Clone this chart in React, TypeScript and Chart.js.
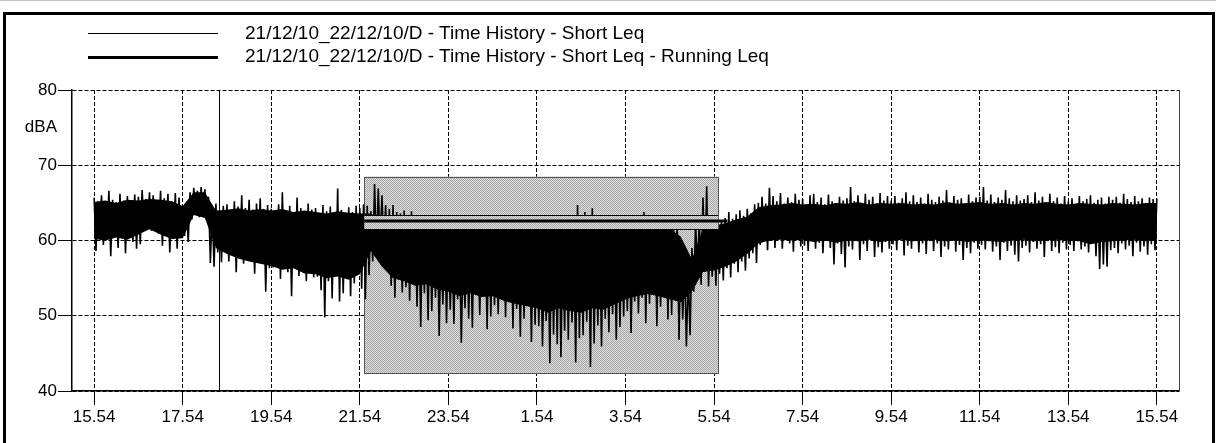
import React, { useEffect, useRef } from 'react';
import { Chart, registerables } from 'chart.js';

Chart.register(...registerables);

const FONT = "'Liberation Sans', Arial, Helvetica, sans-serif";

// ---- legend ----
const legendLabels = [
  '21/12/10_22/12/10/D - Time History - Short Leq',
  '21/12/10_22/12/10/D - Time History - Short Leq - Running Leq',
];

// ---- axes ----
// x values are hours after 15:54 on the first day
const xTickHours = [0, 2, 4, 6, 8, 10, 12, 14, 16, 18, 20, 22, 24];
const xTickLabels = ['15.54', '17.54', '19.54', '21.54', '23.54', '1.54', '3.54', '5.54', '7.54', '9.54', '11.54', '13.54', '15.54'];
const xRange = [-0.5, 24.5];
const yTickValues = [40, 50, 60, 70, 75, 80];
const yUnitValue = 75;
const yUnitLabel = 'dBA';
const yRange = [40, 80];

// ---- Short Leq: per 5-minute bin, the highest and lowest level (dBA) ----
const binsPerHour = 12;
const shortLeqHigh = [
  65.7, 65.2, 66.0, 65.0, 66.6, 65.4, 65.1, 66.2, 65.3, 65.9, 65.0, 66.1, // 15:54
  65.8, 66.7, 65.5, 66.4, 66.0, 65.3, 66.6, 65.6, 66.2, 65.2, 66.3, 65.7, // 16:54
  64.5, 65.0, 66.4, 67.0, 66.6, 67.1, 66.8, 65.8, 64.3, 64.9, 63.9, 64.6, // 17:54
  64.8, 64.0, 65.2, 64.5, 66.0, 64.3, 65.4, 64.1, 64.9, 65.6, 64.2, 64.7, // 18:54
  64.2, 63.7, 64.8, 66.4, 64.0, 64.6, 63.8, 65.7, 64.3, 63.9, 64.9, 64.1, // 19:54
  64.3, 63.6, 64.7, 63.9, 64.5, 63.7, 66.9, 64.1, 63.5, 64.4, 63.8, 64.6, // 20:54
  64.3, 64.8, 64.6, 63.9, 67.5, 66.9, 66.0, 64.7, 64.2, 64.7, 63.8, 63.6, // 21:54
  64.0, 62.6, 63.9, 62.3, 62.8, 61.9, 62.5, 62.9, 61.6, 62.4, 60.5, 62.0, // 22:54
  61.8, 59.3, 62.6, 60.4, 58.8, 62.1, 60.0, 62.8, 59.1, 61.9, 60.6, 62.7, // 23:54
  62.8, 61.8, 63.0, 61.2, 63.1, 62.0, 62.5, 60.2, 62.8, 59.7, 62.4, 60.4, // 0:54
  62.5, 60.2, 57.2, 59.6, 62.3, 60.5, 62.8, 59.4, 62.3, 62.6, 60.8, 64.7, // 1:54
  62.6, 63.8, 62.2, 64.3, 62.9, 60.8, 62.4, 59.6, 62.7, 60.1, 62.4, 59.8, // 2:54
  60.4, 62.3, 59.2, 62.6, 60.7, 63.8, 62.8, 62.1, 62.9, 61.6, 63.0, 62.4, // 3:54
  62.8, 62.2, 62.9, 60.3, 57.5, 55.7, 59.0, 62.5, 62.9, 65.7, 67.2, 62.8, // 4:54
  62.8, 63.4, 62.5, 63.0, 63.8, 62.9, 63.5, 64.0, 63.3, 64.2, 63.6, 64.8, // 5:54
  65.0, 65.8, 64.9, 67.0, 65.9, 65.2, 66.3, 64.9, 65.7, 65.1, 66.2, 65.4, // 6:54
  65.5, 64.8, 66.0, 66.2, 65.1, 65.7, 64.8, 66.1, 65.2, 64.9, 65.8, 65.3, // 7:54
  65.6, 67.1, 65.2, 66.0, 65.0, 66.2, 65.4, 65.8, 64.9, 66.3, 65.3, 65.9, // 8:54
  65.3, 65.9, 65.0, 65.6, 66.4, 65.2, 66.0, 65.1, 65.7, 64.9, 66.2, 65.4, // 9:54
  65.1, 65.8, 65.3, 66.7, 65.0, 65.9, 65.4, 65.6, 64.9, 66.1, 65.2, 65.7, // 10:54
  65.8, 67.1, 65.3, 66.1, 65.1, 65.7, 65.4, 66.7, 65.6, 65.2, 66.0, 65.3, // 11:54
  65.5, 66.0, 65.1, 66.4, 65.3, 65.8, 65.0, 66.2, 65.2, 65.7, 64.9, 65.9, // 12:54
  65.2, 65.6, 64.8, 65.9, 65.2, 65.5, 66.0, 65.0, 65.4, 65.7, 64.9, 65.8, // 13:54
  65.4, 65.8, 65.0, 66.2, 65.5, 65.1, 65.9, 65.2, 65.6, 64.9, 65.7, 65.5, // 14:54
  65.6, // 15:54
];
const shortLeqLow = [
  58.6, 61.2, 59.4, 60.8, 57.9, 61.0, 59.0, 60.5, 58.3, 61.3, 59.8, 58.9, // 15:54
  59.5, 61.8, 62.0, 61.3, 62.2, 60.9, 59.3, 61.0, 58.4, 60.2, 58.9, 60.6, // 16:54
  60.6, 59.8, 62.8, 63.5, 63.1, 63.6, 63.2, 57.0, 56.5, 58.4, 57.1, 58.9, // 17:54
  57.2, 59.4, 55.8, 58.6, 56.9, 59.8, 57.5, 55.6, 58.9, 57.0, 53.2, 56.3, // 18:54
  56.4, 58.2, 54.9, 57.6, 55.8, 52.6, 57.0, 55.3, 58.1, 54.6, 56.8, 55.1, // 19:54
  55.2, 53.4, 49.8, 54.6, 52.3, 55.7, 51.9, 53.0, 55.9, 52.6, 54.3, 56.0, // 20:54
  53.6, 52.2, 55.4, 57.2, 58.6, 59.6, 58.8, 56.5, 54.0, 52.4, 55.8, 53.1, // 21:54
  53.8, 52.0, 54.5, 51.2, 48.5, 53.0, 49.4, 50.6, 52.4, 47.3, 51.5, 49.0, // 22:54
  50.8, 48.9, 52.2, 46.4, 51.0, 49.6, 48.4, 52.8, 50.1, 53.4, 48.2, 49.9, // 23:54
  51.4, 50.2, 52.6, 49.8, 51.8, 48.3, 50.9, 47.2, 49.6, 51.3, 46.5, 48.8, // 0:54
  48.6, 45.9, 49.3, 43.7, 47.5, 46.2, 44.5, 48.0, 46.8, 49.1, 43.8, 47.0, // 1:54
  47.4, 49.2, 43.2, 46.3, 48.7, 45.9, 49.6, 47.8, 50.2, 46.8, 48.5, 49.9, // 2:54
  50.6, 47.7, 51.9, 50.3, 52.4, 49.0, 51.6, 53.0, 48.6, 51.2, 52.7, 49.5, // 3:54
  50.1, 52.3, 46.8, 49.5, 45.9, 47.4, 53.2, 55.4, 54.1, 55.8, 53.9, 55.2, // 4:54
  54.0, 55.6, 54.7, 56.3, 55.1, 56.9, 55.8, 57.2, 56.0, 57.6, 58.3, 57.0, // 5:54
  59.4, 60.8, 58.7, 60.2, 59.0, 61.0, 58.9, 60.4, 59.6, 58.5, 60.7, 59.2, // 6:54
  59.3, 58.6, 60.1, 58.9, 59.7, 58.3, 60.3, 59.0, 56.8, 59.6, 58.2, 56.4, // 7:54
  59.2, 58.8, 60.0, 57.4, 59.5, 58.6, 60.2, 57.8, 59.1, 58.4, 59.8, 58.9, // 8:54
  59.5, 58.7, 60.1, 58.0, 59.3, 58.9, 60.0, 58.4, 59.6, 58.2, 59.9, 58.6, // 9:54
  59.6, 57.8, 59.2, 58.8, 60.0, 58.5, 59.4, 57.4, 59.0, 58.3, 59.7, 58.9, // 10:54
  59.4, 58.8, 59.9, 58.5, 59.2, 57.4, 59.7, 58.6, 59.3, 58.1, 57.2, 59.0, // 11:54
  59.3, 58.4, 59.8, 58.9, 59.5, 57.8, 59.9, 58.6, 59.1, 58.3, 59.7, 58.8, // 12:54
  59.4, 58.6, 59.9, 58.8, 59.2, 58.4, 59.6, 57.9, 56.2, 56.8, 56.5, 58.7, // 13:54
  59.0, 58.3, 59.6, 58.8, 59.3, 57.9, 59.7, 58.5, 59.2, 58.1, 59.5, 58.7, // 14:54
];

// ---- Short Leq: dense core of the trace, per 15 minutes (upper / lower edge, dBA) ----
const coreStepsPerHour = 4;
const shortLeqCoreTop = [
  65.1, 65.3, 65.0, 65.4, // 15:54
  65.3, 65.5, 65.4, 65.2, // 16:54
  64.6, 66.4, 66.4, 64.0, // 17:54
  64.1, 64.3, 64.0, 64.2, // 18:54
  64.0, 64.2, 63.8, 64.0, // 19:54
  63.8, 63.6, 63.9, 63.7, // 20:54
  63.6, 63.6, 62.8, 62.0, // 21:54
  61.8, 61.6, 61.6, 61.6, // 22:54
  61.6, 61.6, 61.6, 61.6, // 23:54
  61.6, 61.6, 61.6, 61.6, // 0:54
  61.6, 61.6, 61.6, 61.6, // 1:54
  61.6, 61.6, 61.6, 61.6, // 2:54
  61.6, 61.6, 61.6, 61.6, // 3:54
  61.6, 60.5, 57.5, 61.6, // 4:54
  62.0, 62.3, 62.8, 63.2, // 5:54
  64.4, 64.7, 64.8, 65.0, // 6:54
  64.8, 64.9, 64.7, 65.0, // 7:54
  64.9, 65.1, 64.8, 65.0, // 8:54
  64.9, 65.0, 64.8, 64.9, // 9:54
  64.8, 65.1, 64.9, 65.0, // 10:54
  65.1, 64.9, 65.0, 64.8, // 11:54
  65.0, 64.9, 65.1, 64.9, // 12:54
  64.8, 65.0, 64.9, 64.8, // 13:54
  65.0, 64.9, 64.8, 65.0, // 14:54
  65.0, // 15:54
];
const shortLeqCoreBottom = [
  60.2, 60.0, 60.4, 60.1, // 15:54
  60.8, 61.5, 60.8, 60.2, // 16:54
  60.3, 63.4, 63.0, 59.0, // 17:54
  58.2, 57.6, 57.2, 56.9, // 18:54
  56.6, 56.1, 56.3, 55.6, // 19:54
  55.5, 55.0, 55.2, 54.8, // 20:54
  55.5, 58.6, 56.5, 55.0, // 21:54
  54.6, 54.0, 54.2, 53.5, // 22:54
  53.2, 52.6, 53.0, 52.5, // 23:54
  52.6, 52.0, 51.6, 51.3, // 0:54
  51.0, 50.4, 51.0, 50.6, // 1:54
  50.4, 51.0, 50.8, 51.5, // 2:54
  52.2, 52.6, 52.9, 52.6, // 3:54
  52.2, 51.8, 53.2, 55.8, // 4:54
  56.0, 56.5, 57.2, 58.2, // 5:54
  59.6, 60.0, 60.1, 60.0, // 6:54
  60.1, 59.8, 60.0, 59.7, // 7:54
  60.0, 59.9, 60.1, 59.8, // 8:54
  60.0, 60.1, 59.9, 60.0, // 9:54
  60.1, 59.9, 60.0, 59.8, // 10:54
  60.0, 59.9, 59.8, 60.0, // 11:54
  60.1, 59.9, 60.0, 60.1, // 12:54
  60.0, 59.9, 59.5, 59.8, // 13:54
  59.9, 60.0, 60.1, 59.9, // 14:54
  60.0, // 15:54
];

// ---- Running Leq over the night period ----
const runningLeqHours = [6.1, 14.3];
const runningLeqValues = [62.6, 62.6];

// ---- night period (22:00 - 6:00) shading and Leq band ----
const nightHours = [6.1, 14.1];
const nightBoxLevels = [42.4, 68.5];
const nightBandLevels = [61.5, 63.4];
const cursorHour = 2.815; // 18:43

const shortPoints: { x: number; y: number }[] = [];
for (let i = 0; i < shortLeqLow.length; i++) {
  shortPoints.push({ x: i / binsPerHour, y: shortLeqHigh[i] });
  shortPoints.push({ x: (i + 0.5) / binsPerHour, y: shortLeqLow[i] });
}
shortPoints.push({ x: shortLeqLow.length / binsPerHour, y: shortLeqHigh[shortLeqLow.length] });

const coreTopPoints = shortLeqCoreTop.map((v, i) => ({ x: i / coreStepsPerHour, y: v }));
const coreBottomPoints = shortLeqCoreBottom.map((v, i) => ({ x: i / coreStepsPerHour, y: v }));
const runningPoints = runningLeqHours.map((h, i) => ({ x: h, y: runningLeqValues[i] }));

function makePattern(ctx: CanvasRenderingContext2D) {
  const c = document.createElement('canvas');
  c.width = 2;
  c.height = 2;
  const p = c.getContext('2d')!;
  p.fillStyle = '#dcdcdc';
  p.fillRect(0, 0, 2, 2);
  p.fillStyle = '#a8a8a8';
  p.fillRect(0, 0, 1, 1);
  p.fillRect(1, 1, 1, 1);
  return ctx.createPattern(c, 'repeat')!;
}

const overlayPlugin = {
  id: 'overlay',
  beforeDatasetsDraw(chart: any) {
    const { ctx, scales } = chart;
    const x1 = scales.x.getPixelForValue(nightHours[0]);
    const x2 = scales.x.getPixelForValue(nightHours[1]);
    const yTop = scales.y.getPixelForValue(nightBoxLevels[1]);
    const yBot = scales.y.getPixelForValue(nightBoxLevels[0]);
    ctx.save();
    ctx.fillStyle = makePattern(ctx);
    ctx.fillRect(x1, yTop, x2 - x1, yBot - yTop);
    ctx.strokeStyle = '#555';
    ctx.lineWidth = 1;
    ctx.strokeRect(Math.round(x1) + 0.5, Math.round(yTop) + 0.5, Math.round(x2 - x1), Math.round(yBot - yTop));
    ctx.restore();
  },
  afterDatasetDraw(chart: any, args: any) {
    if (args.index !== 0) return;
    const { ctx, scales } = chart;
    const x1 = scales.x.getPixelForValue(nightHours[0]);
    const x2 = scales.x.getPixelForValue(nightHours[1]);
    const yTop = scales.y.getPixelForValue(nightBandLevels[1]);
    const yBot = scales.y.getPixelForValue(nightBandLevels[0]);
    ctx.save();
    ctx.fillStyle = makePattern(ctx);
    ctx.fillRect(x1, yTop, x2 - x1, yBot - yTop);
    ctx.strokeStyle = '#000';
    ctx.lineWidth = 1.2;
    ctx.beginPath();
    ctx.moveTo(x1, Math.round(yTop) + 0.5);
    ctx.lineTo(x2, Math.round(yTop) + 0.5);
    ctx.moveTo(x1, Math.round(yBot) + 0.5);
    ctx.lineTo(x2, Math.round(yBot) + 0.5);
    ctx.stroke();
    ctx.restore();
  },
  afterDatasetsDraw(chart: any) {
    const { ctx, scales, chartArea } = chart;
    const cx = Math.round(scales.x.getPixelForValue(cursorHour)) + 0.5;
    ctx.save();
    ctx.strokeStyle = '#000';
    ctx.lineWidth = 1;
    ctx.beginPath();
    ctx.moveTo(cx, chartArea.top);
    ctx.lineTo(cx, chartArea.bottom);
    ctx.stroke();
    ctx.strokeStyle = '#444';
    ctx.beginPath();
    ctx.moveTo(Math.round(chartArea.right) + 0.5, chartArea.top);
    ctx.lineTo(Math.round(chartArea.right) + 0.5, chartArea.bottom);
    ctx.stroke();
    ctx.restore();
  },
};

export default function App() {
  const ref = useRef<HTMLCanvasElement | null>(null);

  useEffect(() => {
    const canvas = ref.current;
    if (!canvas) return;
    const font = { family: FONT, size: 17 };
    const chart = new Chart(canvas, {
      type: 'line',
      data: {
        datasets: [
          {
            label: legendLabels[0],
            data: shortPoints,
            borderColor: '#000',
            borderWidth: 1.6,
            pointRadius: 0,
            tension: 0,
            fill: false,
            order: 2,
          },
          {
            label: legendLabels[1],
            data: runningPoints,
            borderColor: '#000',
            borderWidth: 3,
            pointRadius: 0,
            tension: 0,
            fill: false,
            order: 1,
          },
          {
            label: 'core-top',
            data: coreTopPoints,
            borderColor: '#000',
            borderWidth: 0,
            pointRadius: 0,
            tension: 0,
            fill: false,
            order: 4,
          },
          {
            label: 'core-bottom',
            data: coreBottomPoints,
            borderColor: '#000',
            backgroundColor: '#000',
            borderWidth: 0,
            pointRadius: 0,
            tension: 0,
            fill: '-1',
            order: 3,
          },
        ],
      },
      options: {
        animation: false,
        responsive: false,
        maintainAspectRatio: false,
        devicePixelRatio: 1,
        events: [],
        layout: { padding: { left: 0, top: 90, right: 37, bottom: 0 } },
        plugins: { legend: { display: false }, tooltip: { enabled: false } },
        scales: {
          x: {
            type: 'linear',
            min: xRange[0],
            max: xRange[1],
            afterBuildTicks: (s: any) => {
              s.ticks = xTickHours.map((v) => ({ value: v }));
            },
            afterFit: (s: any) => {
              s.height = 52;
            },
            ticks: {
              autoSkip: false,
              maxRotation: 0,
              font,
              color: '#000',
              padding: 2,
              callback: (_v: any, i: number) => xTickLabels[i],
            },
            grid: { color: '#000', lineWidth: 1, tickLength: 14, tickColor: '#000', tickWidth: 1 },
            border: { display: true, color: '#000', width: 1.5, dash: [4, 2] },
          },
          y: {
            type: 'linear',
            min: yRange[0],
            max: yRange[1],
            afterBuildTicks: (s: any) => {
              s.ticks = yTickValues.map((v) => ({ value: v }));
            },
            afterFit: (s: any) => {
              s.width = 72;
            },
            ticks: {
              font,
              color: '#000',
              padding: 1,
              callback: (v: any) => (v === yUnitValue ? yUnitLabel : String(v)),
            },
            grid: {
              color: (c: any) => (c.tick && c.tick.value === yUnitValue ? 'rgba(0,0,0,0)' : '#000'),
              tickColor: (c: any) => (c.tick && c.tick.value === yUnitValue ? 'rgba(0,0,0,0)' : '#000'),
              lineWidth: 1,
              tickLength: 14,
              tickWidth: 1,
            },
            border: { display: true, color: '#000', width: 1.5, dash: [4, 2] },
          },
        },
      },
      plugins: [overlayPlugin],
    } as any);
    return () => chart.destroy();
  }, []);

  const legendText: React.CSSProperties = {
    position: 'absolute',
    left: 245,
    font: `19px ${FONT}`,
    lineHeight: '22px',
    whiteSpace: 'nowrap',
    color: '#000',
  };

  return (
    <div style={{ position: 'fixed', left: 0, top: 0, width: 1216, height: 443, background: '#fff', overflow: 'hidden' }}>
      <div style={{ position: 'absolute', left: 0, top: 0, width: 1216, height: 1, background: '#c4c4c4' }} />
      <div
        style={{
          position: 'absolute',
          left: 3,
          top: 12,
          width: 1212,
          height: 460,
          border: '3px solid #000',
          boxSizing: 'border-box',
        }}
      />
      <canvas ref={ref} width={1216} height={443} style={{ position: 'absolute', left: 0, top: 0, width: 1216, height: 443 }} />
      <div style={{ position: 'absolute', left: 88, top: 32.5, width: 130, height: 1.5, background: '#000' }} />
      <div style={{ ...legendText, top: 22 }}>{legendLabels[0]}</div>
      <div style={{ position: 'absolute', left: 88, top: 55.5, width: 130, height: 3, background: '#000' }} />
      <div style={{ ...legendText, top: 45 }}>{legendLabels[1]}</div>
    </div>
  );
}
